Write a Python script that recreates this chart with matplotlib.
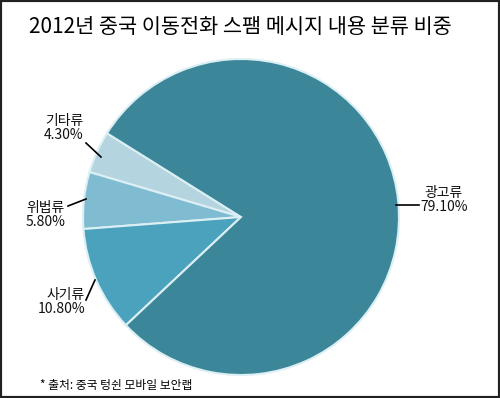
import matplotlib.pyplot as plt
from matplotlib.patches import Rectangle

plt.rcParams['font.family'] = ['Noto Sans CJK KR', 'DejaVu Sans']

title = '2012년 중국 이동전화 스팸 메시지 내용 분류 비중'
labels = ['기타류', '위법류', '사기류', '광고류']
shares = [4.3, 5.8, 10.8, 79.1]
colors = ['#b4d5df', '#80bcd1', '#4aa2bd', '#3b8699']
source = '* 출처: 중국 텅쉰 모바일 보안랩'

W, H = 500, 398
fig = plt.figure(figsize=(W / 100, H / 100), dpi=100)
ax = fig.add_axes([0, 0, 1, 1])

cx, cy, r = 241, H - 217, 158
ax.pie(shares, colors=colors, startangle=148, counterclock=True,
       center=(cx, cy), radius=r, frame=True,
       wedgeprops=dict(edgecolor='#dcefF4', linewidth=1.5))
ax.set_xlim(0, W)
ax.set_ylim(0, H)
ax.axis('off')

# label text and leader lines (pixel coords, y from top)
lab = [
    (83, 128, [(86, 143), (101, 157)]),
    (65, 215, [(68, 206), (86, 199)]),
    (85, 302, [(86, 300), (95, 280)]),
    (444, 200, [(396, 205), (419, 205)]),
]
for (name, val), (tx, ty, line) in zip(zip(labels, shares), lab):
    ha = 'center' if name == '광고류' else 'right'
    ax.text(tx, H - ty, f'{name}\n{val:.2f}%', ha=ha, va='center',
            fontsize=10, linespacing=0.95, color='#111111')
    xs = [p[0] for p in line]
    ys = [H - p[1] for p in line]
    ax.plot(xs, ys, color='black', lw=1.2)

fig.text(240 / W, 1 - 27 / H, title, ha='center', va='center', fontsize=15)
fig.text(40 / W, 1 - 385 / H, source, ha='left', va='center', fontsize=8.5)

fig.patches.append(Rectangle((0, 0), 1, 1, transform=fig.transFigure,
                             fill=False, edgecolor='#222222', lw=3))

fig.savefig('out.png', dpi=100)
